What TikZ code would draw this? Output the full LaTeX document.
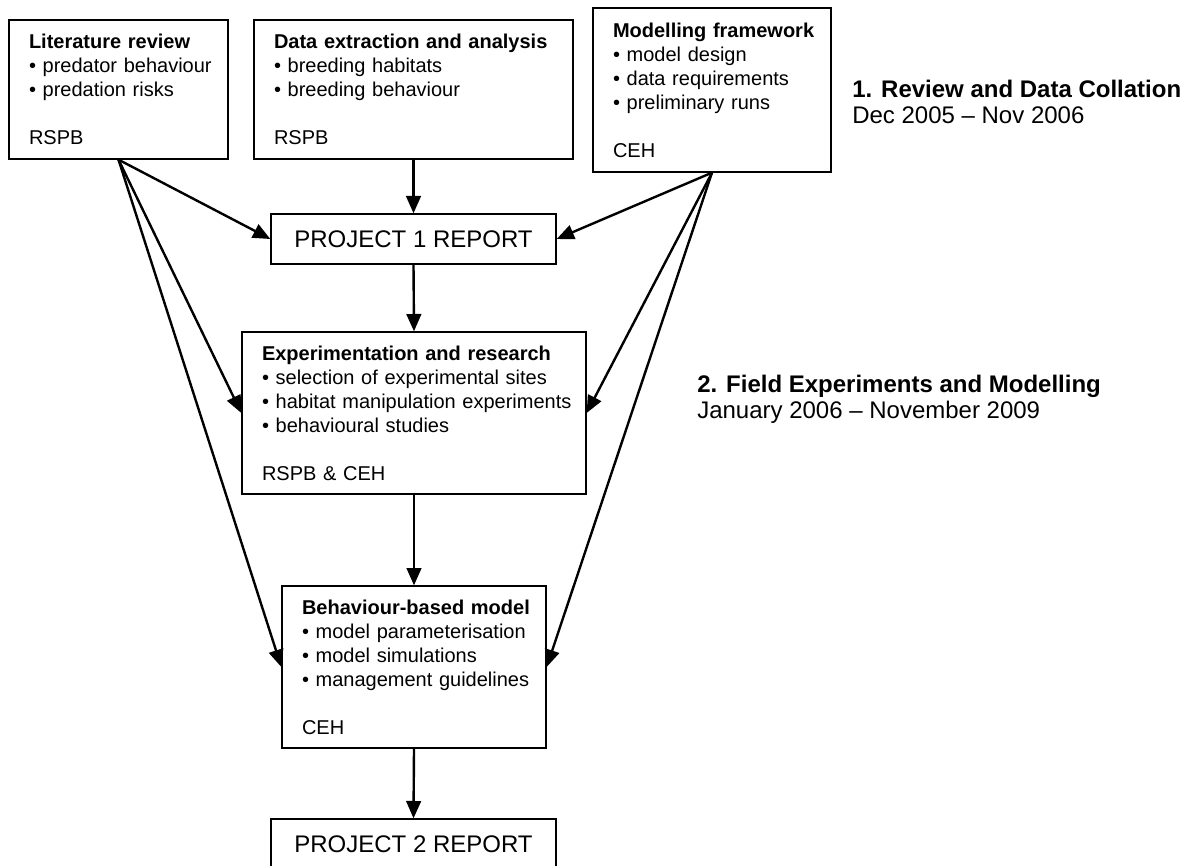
\documentclass[tikz,border=0pt]{standalone}
\usepackage{fontspec}
\setmainfont{Liberation Sans}
\usetikzlibrary{arrows.meta,positioning}
\tikzset{
  taskbox/.style={
    rectangle, draw=black, line width=1pt, fill=white, align=left,
    inner xsep=15pt, inner ysep=0pt, font=\fontsize{15pt}{18pt}\selectfont
  },
  reportbox/.style={
    rectangle, draw=black, line width=1pt, fill=white,
    minimum width=213.75pt, minimum height=37.5pt, font=\fontsize{18pt}{21.6pt}\selectfont
  },
  phasetext/.style={anchor=north west, align=left, inner sep=0pt, font=\fontsize{18pt}{19.5pt}\selectfont},
  flow/.style={draw=black, line width=1.8pt, -{Triangle[length=13pt,width=11pt]}}
}
% one unbroken line per entry
\newcommand{\btitle}[1]{\mbox{\textbf{#1}}}
\newcommand{\bitem}[1]{\mbox{• #1}}

\begin{document}
\begin{tikzpicture}[x=0.75pt,y=-0.75pt]
    \useasboundingbox (0,0) rectangle (1196,866);
    % Boxes
    \node[taskbox, text width=134.25pt, minimum height=104.25pt] (lit)   at (118.5,89.5)
        {\btitle{Literature review}\\\bitem{predator behaviour}\\\bitem{predation risks}\\[18pt]RSPB};
    \node[taskbox, text width=209.25pt, minimum height=104.25pt] (data)  at (413.5,89.5)
        {\btitle{Data extraction and analysis}\\\bitem{breeding habitats}\\\bitem{breeding behaviour}\\[18pt]RSPB};
    \node[taskbox, text width=148.5pt, minimum height=123pt]     (model) at (712,90)
        {\btitle{Modelling framework}\\\bitem{model design}\\\bitem{data requirements}\\\bitem{preliminary runs}\\[18pt]CEH};
    \node[reportbox] (rep1) at (413.5,239) {PROJECT 1 REPORT};
    \node[taskbox, text width=228pt, minimum height=121.5pt]     (exp)   at (414,413)
        {\btitle{Experimentation and research}\\\bitem{selection of experimental sites}\\\bitem{habitat manipulation experiments}\\\bitem{behavioural studies}\\[18pt]RSPB \& CEH};
    \node[taskbox, text width=168pt, minimum height=121.5pt]     (beh)   at (414,667)
        {\btitle{Behaviour-based model}\\\bitem{model parameterisation}\\\bitem{model simulations}\\\bitem{management guidelines}\\[18pt]CEH};
    \node[reportbox] (rep2) at (413.5,844) {PROJECT 2 REPORT};
    % Phases
    \node[phasetext] (phase1) at (852,80)  {\textbf{1. Review and Data Collation}\\Dec 2005 – Nov 2006};
    \node[phasetext] (phase2) at (697,375) {\textbf{2. Field Experiments and Modelling}\\January 2006 – November 2009};
    % Arrows
    \draw[flow] (lit.south) -- (rep1.west);
    \draw[flow] (lit.south) -- (exp.west);
    \draw[flow] (lit.south) -- (beh.west);
    \draw[flow] (data.south) -- (rep1.north);
    \draw[flow] (model.south) -- (rep1.east);
    \draw[flow] (model.south) -- (exp.east);
    \draw[flow] (model.south) -- (beh.east);
    \draw[flow] (rep1.south) -- (exp.north);
    \draw[flow] (exp.south) -- (beh.north);
    \draw[flow] (beh.south) -- (rep2.north);
\end{tikzpicture}
\end{document}
